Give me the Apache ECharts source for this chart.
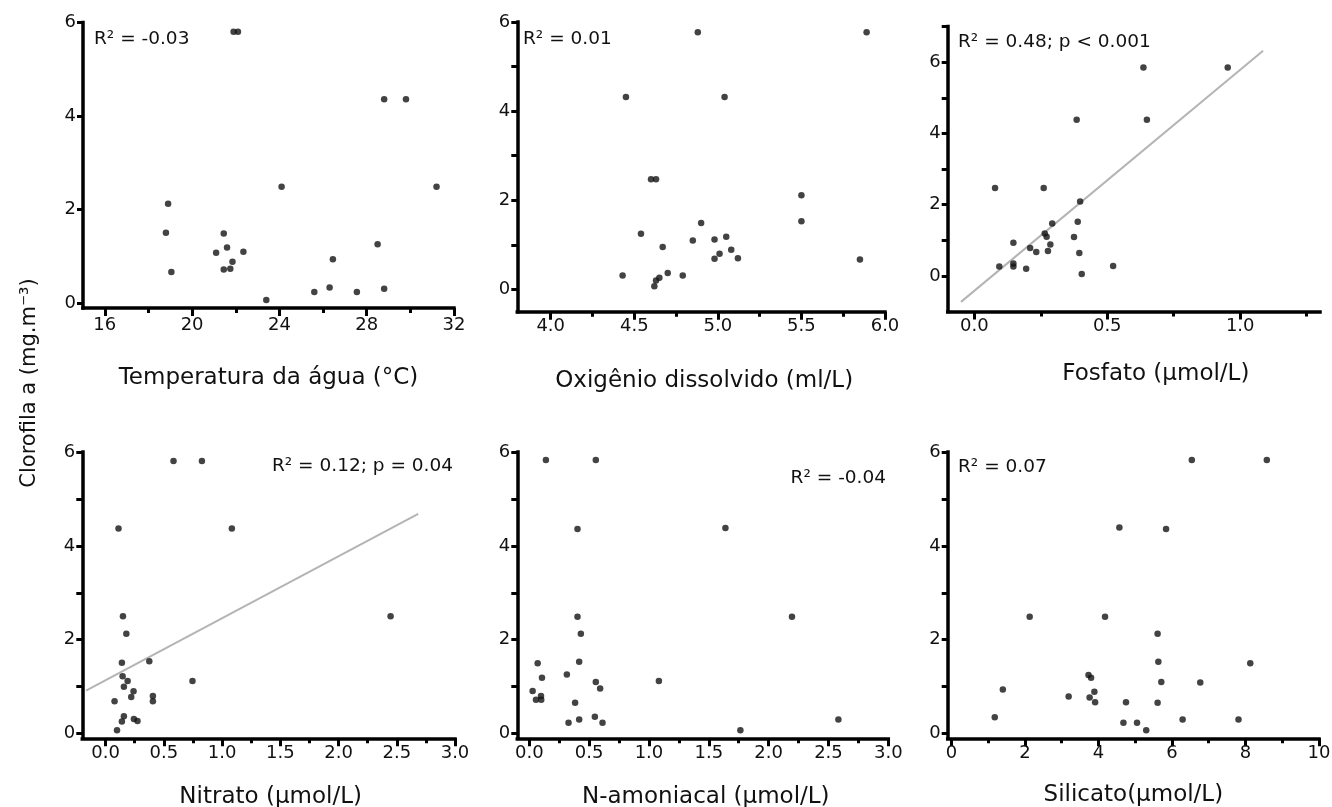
<!DOCTYPE html>
<html>
<head>
<meta charset="utf-8">
<script src="https://cdn.jsdelivr.net/npm/echarts@6/dist/echarts.min.js"></script>
<style>
  html, body { margin: 0; padding: 0; background: #fff; }
  #chart { width: 1332px; height: 807px; }
</style>
</head>
<body>
<div id="chart"></div>
<script>
// Clorofila a (mg.m-3) against six environmental variables

// Temperatura da água (°C)
const temperaturaX = [21.9, 22.1, 28.8, 29.8, 24.1, 31.2, 18.9, 18.8, 21.45, 28.5, 21.6, 21.1, 22.35, 21.85, 21.45, 21.75, 19.05, 26.45, 23.4, 25.6, 26.3, 27.55, 28.8];
const temperaturaY = [5.80, 5.80, 4.36, 4.36, 2.49, 2.49, 2.13, 1.51, 1.49, 1.26, 1.19, 1.08, 1.10, 0.89, 0.72, 0.74, 0.67, 0.94, 0.07, 0.24, 0.34, 0.24, 0.31];

// Oxigênio dissolvido (ml/L)
const oxigenioX = [4.88, 5.89, 4.45, 5.04, 4.60, 4.63, 5.50, 5.50, 4.90, 4.54, 4.85, 4.98, 5.05, 4.67, 5.08, 5.01, 5.12, 4.98, 5.85, 4.43, 4.65, 4.70, 4.79, 4.62, 4.63];
const oxigenioY = [5.77, 5.77, 4.32, 4.32, 2.47, 2.47, 2.11, 1.53, 1.49, 1.25, 1.10, 1.12, 1.18, 0.95, 0.89, 0.80, 0.70, 0.69, 0.67, 0.31, 0.26, 0.37, 0.31, 0.07, 0.20];

// Fosfato (µmol/L)
const fosfatoX = [0.636, 0.953, 0.385, 0.649, 0.078, 0.261, 0.398, 0.293, 0.389, 0.265, 0.272, 0.375, 0.147, 0.286, 0.21, 0.233, 0.277, 0.395, 0.094, 0.147, 0.147, 0.195, 0.522, 0.404];
const fosfatoY = [5.85, 5.85, 4.38, 4.38, 2.47, 2.47, 2.09, 1.47, 1.52, 1.19, 1.10, 1.09, 0.93, 0.88, 0.78, 0.67, 0.70, 0.64, 0.26, 0.26, 0.35, 0.20, 0.28, 0.05];
const fosfatoFitX = [-0.05, 1.086];
const fosfatoFitY = [-0.73, 6.32];

// Nitrato (µmol/L)
const nitratoX = [0.583, 0.827, 0.111, 1.084, 0.149, 2.447, 0.178, 0.375, 0.14, 0.146, 0.189, 0.746, 0.157, 0.24, 0.22, 0.406, 0.406, 0.077, 0.157, 0.243, 0.274, 0.14, 0.098];
const nitratoY = [5.81, 5.81, 4.37, 4.37, 2.50, 2.50, 2.13, 1.54, 1.51, 1.22, 1.12, 1.12, 1.00, 0.90, 0.78, 0.80, 0.69, 0.69, 0.37, 0.31, 0.27, 0.26, 0.07];
const nitratoFitX = [-0.168, 2.684];
const nitratoFitY = [0.917, 4.68];

// N-amoniacal (µmol/L)
const amoniacalX = [0.139, 0.556, 0.403, 1.639, 0.403, 2.195, 0.431, 0.07, 0.417, 0.314, 0.106, 1.083, 0.556, 0.592, 0.028, 0.098, 0.056, 0.10, 0.383, 0.328, 0.417, 0.548, 0.612, 2.583, 1.764];
const amoniacalY = [5.83, 5.83, 4.36, 4.38, 2.49, 2.49, 2.13, 1.50, 1.53, 1.26, 1.19, 1.12, 1.10, 0.96, 0.91, 0.80, 0.72, 0.72, 0.66, 0.23, 0.30, 0.36, 0.23, 0.30, 0.07];

// Silicato (µmol/L)
const silicatoX = [6.54, 8.58, 4.57, 5.84, 2.13, 4.18, 5.61, 5.63, 8.13, 3.73, 3.80, 5.71, 6.77, 1.40, 3.19, 3.89, 3.76, 3.91, 4.75, 5.61, 1.18, 4.68, 5.05, 5.30, 6.29, 7.81];
const silicatoY = [5.83, 5.83, 4.39, 4.36, 2.49, 2.49, 2.13, 1.53, 1.50, 1.25, 1.19, 1.10, 1.09, 0.94, 0.79, 0.89, 0.77, 0.67, 0.67, 0.66, 0.35, 0.23, 0.23, 0.07, 0.30, 0.30];

// Tick values
const temperaturaTicks = [16, 20, 24, 28, 32];
const temperaturaMinor = [18, 22, 26, 30];
const oxigenioTicks = [4.0, 4.5, 5.0, 5.5, 6.0];
const oxigenioMinor = [4.25, 4.75, 5.25, 5.75];
const fosfatoTicks = [0.0, 0.5, 1.0];
const fosfatoMinor = [0.25, 0.75, 1.25];
const nitrogenioTicks = [0.0, 0.5, 1.0, 1.5, 2.0, 2.5, 3.0];
const nitrogenioMinor = [0.25, 0.75, 1.25, 1.75, 2.25, 2.75];
const silicatoTicks = [0, 2, 4, 6, 8, 10];
const silicatoMinor = [1, 3, 5, 7, 9];
const clorofilaTicks = [0, 2, 4, 6];
const clorofilaMinor = [1, 3, 5];
const clorofilaMinorFosfato = [1, 3, 5, 7];

// Statistics text per panel
const statsText = ['R² = -0.03', 'R² = 0.01', 'R² = 0.48; p < 0.001', 'R² = 0.12; p = 0.04', 'R² = -0.04', 'R² = 0.07'];
const yTitle = 'Clorofila a (mg.m⁻³)';

const FONT = 'DejaVu Sans';
const INK = '#111';

const panels = [
  { rect: { left: 83, top: 22.5, width: 371, height: 285.5 },
    x: { min: 15, max: 32, major: temperaturaTicks, minor: temperaturaMinor, dec: 0 },
    y: { min: -0.1, max: 6, major: clorofilaTicks, minor: null },
    name: 'Temperatura da água (°C)', nameGap: 59, nameShift: 0, labelMargin: 8,
    xs: temperaturaX, ys: temperaturaY, fit: null,
    stat: { x: 94, y: 39, align: 'left' } },
  { rect: { left: 517.3, top: 22, width: 367.7, height: 289.7 },
    x: { min: 3.8, max: 6.0, major: oxigenioTicks, minor: oxigenioMinor, dec: 1 },
    y: { min: -0.5, max: 6, major: clorofilaTicks, minor: clorofilaMinor },
    name: 'Oxigênio dissolvido (ml/L)', nameGap: 58, nameShift: 6, labelMargin: 6,
    xs: oxigenioX, ys: oxigenioY, fit: null,
    stat: { x: 523, y: 39, align: 'left' } },
  { rect: { left: 947.7, top: 26.5, width: 372.3, height: 285 },
    x: { min: -0.1, max: 1.3, major: fosfatoTicks, minor: fosfatoMinor, dec: 1 },
    y: { min: -1, max: 7, major: clorofilaTicks, minor: clorofilaMinorFosfato },
    name: 'Fosfato (µmol/L)', nameGap: 51, nameShift: 44, labelMargin: 6,
    xs: fosfatoX, ys: fosfatoY, fit: { x: fosfatoFitX, y: fosfatoFitY },
    stat: { x: 958, y: 42, align: 'left' } },
  { rect: { left: 82.3, top: 452, width: 372.7, height: 286.3 },
    x: { min: -0.2, max: 3.0, major: nitrogenioTicks, minor: nitrogenioMinor, dec: 1 },
    y: { min: -0.1, max: 6, major: clorofilaTicks, minor: clorofilaMinor },
    name: 'Nitrato (µmol/L)', nameGap: 47, nameShift: 4, labelMargin: 6,
    xs: nitratoX, ys: nitratoY, fit: { x: nitratoFitX, y: nitratoFitY },
    stat: { x: 453, y: 466, align: 'right' } },
  { rect: { left: 517.3, top: 452, width: 371, height: 286.3 },
    x: { min: -0.1, max: 3.0, major: nitrogenioTicks, minor: nitrogenioMinor, dec: 1 },
    y: { min: -0.1, max: 6, major: clorofilaTicks, minor: clorofilaMinor },
    name: 'N-amoniacal (µmol/L)', nameGap: 47, nameShift: 6, labelMargin: 6,
    xs: amoniacalX, ys: amoniacalY, fit: null,
    stat: { x: 886, y: 478, align: 'right' } },
  { rect: { left: 947.7, top: 452, width: 371.3, height: 286.3 },
    x: { min: -0.1, max: 10, major: silicatoTicks, minor: silicatoMinor, dec: 0 },
    y: { min: -0.1, max: 6, major: clorofilaTicks, minor: clorofilaMinor },
    name: 'Silicato(µmol/L)', nameGap: 45, nameShift: 0, labelMargin: 6,
    xs: silicatoX, ys: silicatoY, fit: null,
    stat: { x: 958, y: 467, align: 'left' } }
];

const grid = [], xAxis = [], yAxis = [], series = [], graphic = [];

const blackLine = { color: '#000', width: 3.5, cap: 'square' };

panels.forEach((p, i) => {
  grid.push(Object.assign({ outerBoundsMode: 'none', containLabel: false }, p.rect));

  const xMain = xAxis.length;
  xAxis.push({
    type: 'value', gridIndex: i, min: p.x.min, max: p.x.max, position: 'bottom',
    name: p.name, nameLocation: 'middle', nameGap: p.nameGap,
    nameTextStyle: { fontFamily: FONT, fontSize: 23, color: INK, padding: [0, 0, 0, p.nameShift] },
    axisLine: { show: true, onZero: false, lineStyle: blackLine },
    axisTick: { show: true, inside: false, length: 8, customValues: p.x.major, lineStyle: { color: '#000', width: 3 } },
    axisLabel: { show: true, margin: p.labelMargin, customValues: p.x.major,
      fontFamily: FONT, fontSize: 18, color: INK,
      formatter: v => Number(v).toFixed(p.x.dec) },
    splitLine: { show: false }
  });
  // minor ticks on the same edge
  xAxis.push({
    type: 'value', gridIndex: i, min: p.x.min, max: p.x.max, position: 'bottom',
    axisLine: { show: false, onZero: false },
    axisTick: { show: true, length: 5, customValues: p.x.minor, lineStyle: { color: '#000', width: 3 } },
    axisLabel: { show: false },
    splitLine: { show: false }
  });

  const yMain = yAxis.length;
  yAxis.push({
    type: 'value', gridIndex: i, min: p.y.min, max: p.y.max, position: 'left',
    axisLine: { show: true, onZero: false, lineStyle: blackLine },
    axisTick: { show: true, length: 6, customValues: p.y.major, lineStyle: { color: '#000', width: 3 } },
    axisLabel: { show: true, margin: 7, customValues: p.y.major,
      fontFamily: FONT, fontSize: 18, color: INK, formatter: v => String(v) },
    splitLine: { show: false }
  });
  if (p.y.minor) {
    yAxis.push({
      type: 'value', gridIndex: i, min: p.y.min, max: p.y.max, position: 'left',
      axisLine: { show: false, onZero: false },
      axisTick: { show: true, length: 6, customValues: p.y.minor, lineStyle: { color: '#000', width: 3 } },
      axisLabel: { show: false },
      splitLine: { show: false }
    });
  }

  if (p.fit) {
    series.push({
      type: 'line', xAxisIndex: xMain, yAxisIndex: yMain,
      data: p.fit.x.map((v, k) => [v, p.fit.y[k]]),
      symbol: 'none', showSymbol: false, silent: true, z: 1,
      lineStyle: { color: '#b4b4b4', width: 2 }
    });
  }
  series.push({
    type: 'scatter', xAxisIndex: xMain, yAxisIndex: yMain,
    data: p.xs.map((v, k) => [v, p.ys[k]]),
    symbol: 'circle', symbolSize: 6.5, silent: true, z: 3,
    itemStyle: { color: '#141414' }
  });

  graphic.push({
    type: 'text', x: p.stat.x, y: p.stat.y, silent: true,
    style: { text: statsText[i], fill: INK, fontFamily: FONT, fontSize: 18.5,
      align: p.stat.align, verticalAlign: 'middle' }
  });
});

graphic.push({
  type: 'text', x: 30, y: 383, rotation: Math.PI / 2, silent: true,
  style: { text: yTitle, fill: INK, fontFamily: FONT, fontSize: 21,
    align: 'center', verticalAlign: 'middle' }
});

const chart = echarts.init(document.getElementById('chart'), null, { renderer: 'canvas' });
chart.setOption({
  backgroundColor: '#fff',
  animation: false,
  grid, xAxis, yAxis, series, graphic
});
</script>
</body>
</html>
